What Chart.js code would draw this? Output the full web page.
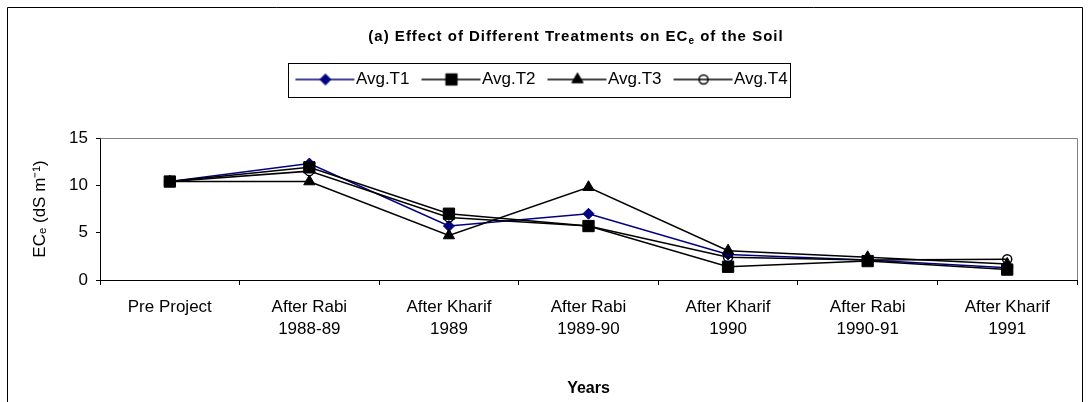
<!DOCTYPE html>
<html><head><meta charset="utf-8">
<script src="https://cdn.jsdelivr.net/npm/chart.js@4.4.0/dist/chart.umd.min.js"></script>
<style>html,body{margin:0;padding:0;background:#fff;} #wrap{width:1090px;height:402px;position:relative;}</style>
</head><body><div id="wrap"><canvas id="c" width="1090" height="402"></canvas></div>
<script>
// ---- data ----
const categories = ['Pre Project', ['After Rabi','1988-89'], ['After Kharif','1989'], ['After Rabi','1989-90'], ['After Kharif','1990'], ['After Rabi','1990-91'], ['After Kharif','1991']];
const seriesNames = ['Avg.T1', 'Avg.T2', 'Avg.T3', 'Avg.T4'];
const avgT1 = [10.4, 12.3, 5.7, 7.0, 2.7, 2.1, 1.3];
const avgT2 = [10.4, 11.9, 7.0, 5.7, 1.4, 2.0, 1.1];
const avgT3 = [10.4, 10.4, 4.7, 9.8, 3.1, 2.4, 1.7];
const avgT4 = [10.4, 11.5, 6.6, 5.7, 2.4, 2.1, 2.2];
const yTicks = [0, 5, 10, 15];
const titleParts = ['(a) Effect of Different Treatments on EC', 'e', ' of the Soil'];
const yAxisTitle = 'ECₑ (dS m⁻¹)';
const xAxisTitle = 'Years';

// ---- styles ----
const FONT = "Arial, 'Liberation Sans', sans-serif";
Chart.defaults.font.family = FONT;
Chart.defaults.color = '#000';
const seriesData = [avgT1, avgT2, avgT3, avgT4];
const styles = [
  {line:'#000080', pointStyle:'rectRot', radius:5.5, fill:'#000080', bw:1},
  {line:'#000000', pointStyle:'rect', radius:8, fill:'#000000', bw:1},
  {line:'#000000', pointStyle:'triangle', radius:6.5, fill:'#000000', bw:1},
  {line:'#000000', pointStyle:'circle', radius:4.5, fill:'rgba(0,0,0,0)', bw:1.5}
];

// legend images: line + marker (image centre = legend box centre)
const legendImgs = styles.map(s => {
  const cv = document.createElement('canvas');
  cv.width = 130; cv.height = 20;
  const c = cv.getContext('2d');
  c.strokeStyle = s.line; c.lineWidth = 1.5;
  c.beginPath(); c.moveTo(41, 10); c.lineTo(100, 10); c.stroke();
  c.fillStyle = s.fill; c.strokeStyle = s.line; c.lineWidth = s.bw;
  Chart.helpers.drawPoint(c, {pointStyle: s.pointStyle, radius: s.radius, rotation: 0, borderWidth: s.bw}, 71, 10);
  return cv;
});

const datasets = seriesNames.map((name, i) => ({
  label: name,
  data: seriesData[i],
  borderColor: styles[i].line,
  backgroundColor: styles[i].fill,
  borderWidth: 1.5,
  pointStyle: styles[i].pointStyle,
  pointRadius: styles[i].radius,
  pointHoverRadius: styles[i].radius,
  pointBackgroundColor: styles[i].fill,
  pointBorderColor: styles[i].line,
  pointBorderWidth: styles[i].bw,
  tension: 0,
  fill: false,
  order: seriesNames.length - i
}));

const framePlugin = {
  id: 'frame',
  beforeDraw(chart) {
    const ctx = chart.ctx;
    ctx.save();
    ctx.fillStyle = '#fff';
    ctx.fillRect(0, 0, chart.width, chart.height);
    ctx.strokeStyle = '#000'; ctx.lineWidth = 1;
    ctx.beginPath();
    ctx.moveTo(7.5, chart.height); ctx.lineTo(7.5, 7.5); ctx.lineTo(1082.5, 7.5); ctx.lineTo(1082.5, chart.height);
    ctx.stroke();
    ctx.restore();
  },
  beforeDatasetsDraw(chart) {
    const {ctx, chartArea: a} = chart;
    ctx.save();
    ctx.strokeStyle = '#808080'; ctx.lineWidth = 1;
    ctx.beginPath();
    ctx.moveTo(Math.round(a.left) + 0.5, Math.round(a.top) + 0.5);
    ctx.lineTo(Math.round(a.right) + 0.5, Math.round(a.top) + 0.5);
    ctx.lineTo(Math.round(a.right) + 0.5, Math.round(a.bottom));
    ctx.stroke();
    ctx.restore();
  },
  beforeLayout(chart) {
    const lg = chart.legend;
    if (lg && !lg._extraPatched) {
      const fit = lg.fit;
      lg.fit = function() { fit.call(this); this.height += 40; };
      lg._extraPatched = true;
    }
  },
  afterDraw(chart) {
    const ctx = chart.ctx;
    // legend frame
    const hb = chart.legend.legendHitBoxes;
    if (hb && hb.length) {
      const l = Math.round(hb[0].left) - 3;
      const last = hb[hb.length - 1];
      const r = Math.round(last.left + last.width) + 2;
      ctx.save();
      ctx.strokeStyle = '#000'; ctx.lineWidth = 1;
      ctx.strokeRect(l + 0.5, 63.5, r - l, 34);
      ctx.restore();
    }
    // chart title with subscript
    ctx.save();
    ctx.fillStyle = '#000';
    ctx.textBaseline = 'middle';
    ctx.textAlign = 'left';
    if ('letterSpacing' in ctx) ctx.letterSpacing = '1px';
    const big = 'bold 15px ' + FONT, small = 'bold 10px ' + FONT;
    ctx.font = big; const w0 = ctx.measureText(titleParts[0]).width; const w2 = ctx.measureText(titleParts[2]).width;
    ctx.font = small; const w1 = ctx.measureText(titleParts[1]).width;
    let x = 576 - (w0 + w1 + w2) / 2;
    const y = 37;
    ctx.font = big; ctx.fillText(titleParts[0], x, y); x += w0;
    ctx.font = small; ctx.fillText(titleParts[1], x, y + 4); x += w1;
    ctx.font = big; ctx.fillText(titleParts[2], x, y);
    ctx.restore();
  }
};

new Chart(document.getElementById('c'), {
  type: 'line',
  data: { labels: categories, datasets },
  options: {
    responsive: false,
    devicePixelRatio: 1,
    animation: false,
    layout: { padding: { top: 63, left: 2, right: 13, bottom: 0 } },
    plugins: {
      title: { display: false },
      tooltip: { enabled: false },
      legend: {
        display: true,
        position: 'top',
        labels: {
          font: { size: 17 },
          color: '#000',
          usePointStyle: true,
          pointStyleWidth: 56,
          padding: 8,
          generateLabels(chart) {
            return chart.data.datasets.map((ds, i) => ({
              text: ds.label, pointStyle: legendImgs[i], fillStyle: 'rgba(0,0,0,0)',
              strokeStyle: 'rgba(0,0,0,0)', lineWidth: 0, hidden: false, datasetIndex: i, fontColor: '#000'
            }));
          }
        }
      }
    },
    scales: {
      x: {
        type: 'category',
        offset: true,
        grid: { offset: true, drawOnChartArea: false, drawTicks: true, tickLength: 5, color: '#000' },
        border: { display: true, color: '#000', width: 1 },
        ticks: { font: { size: 17, lineHeight: 1.3 }, padding: 11, maxRotation: 0, autoSkip: false, color: '#000' },
        title: { display: true, text: xAxisTitle, font: { size: 16, weight: 'bold' }, padding: { top: 0, bottom: 4 }, color: '#000' },
        afterFit(s) { s.height = 122; }
      },
      y: {
        min: 0, max: 15,
        afterBuildTicks(s) { s.ticks = yTicks.map(v => ({ value: v })); },
        grid: { drawOnChartArea: false, drawTicks: true, tickLength: 4, color: '#000' },
        border: { display: true, color: '#000', width: 1 },
        ticks: { font: { size: 17 }, padding: 8, color: '#000' },
        title: { display: true, text: yAxisTitle, font: { size: 17 }, padding: { top: 27.8, bottom: 0 }, color: '#000' },
        afterFit(s) { s.width = 98; }
      }
    }
  },
  plugins: [framePlugin]
});
</script>
</body></html>
